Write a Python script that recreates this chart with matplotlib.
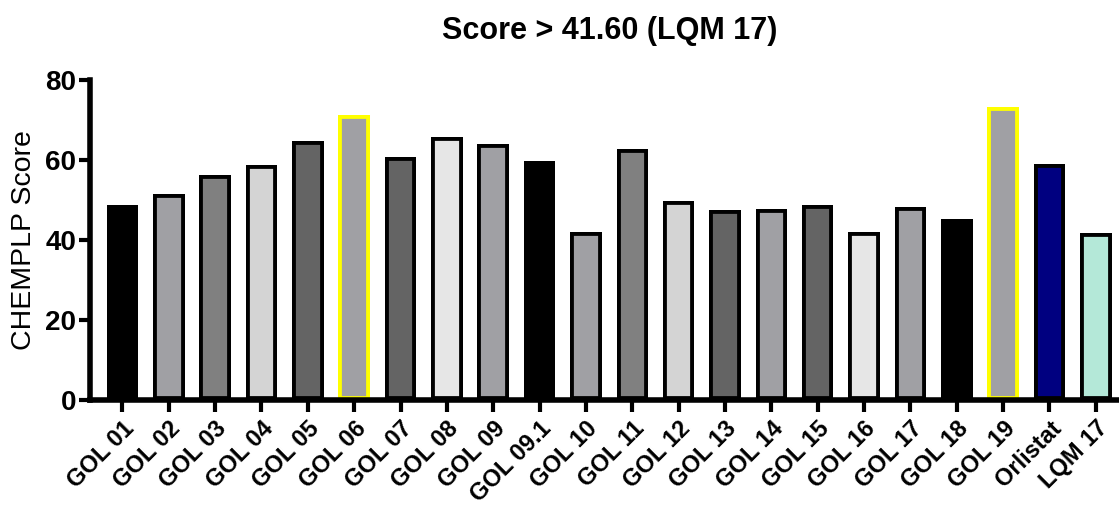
import matplotlib
matplotlib.use("Agg")
import matplotlib.pyplot as plt

plt.rcParams['font.family'] = ['Liberation Sans', 'DejaVu Sans']

compounds = ["GOL 01", "GOL 02", "GOL 03", "GOL 04", "GOL 05", "GOL 06", "GOL 07",
             "GOL 08", "GOL 09", "GOL 09.1", "GOL 10", "GOL 11", "GOL 12", "GOL 13",
             "GOL 14", "GOL 15", "GOL 16", "GOL 17", "GOL 18", "GOL 19",
             "Orlistat", "LQM 17"]
chemplp_scores = [48.8, 51.4, 56.3, 58.6, 64.8, 71.2, 60.8, 65.8, 64.0, 59.6,
                  41.9, 62.7, 49.7, 47.5, 47.8, 48.6, 41.9, 48.3, 45.2, 73.1,
                  59.0, 41.6]
fill_colors = ["#000000", "#a0a0a4", "#808080", "#d4d4d4", "#646464", "#a0a0a4",
               "#646464", "#e6e6e6", "#a0a0a4", "#000000", "#a0a0a4", "#808080",
               "#d4d4d4", "#646464", "#a0a0a4", "#646464", "#e6e6e6", "#a0a0a4",
               "#000000", "#a0a0a4", "#000080", "#b4e8d8"]
edge_colors = ["#000000"] * 5 + ["#ffff00"] + ["#000000"] * 13 + ["#ffff00"] + ["#000000"] * 2
y_ticks = [0, 20, 40, 60, 80]

fig = plt.figure(figsize=(11.19, 5.05), dpi=100)
ax = fig.add_axes([0.0804, 0.208, 0.9196, 0.634])

x = list(range(len(compounds)))
bars = ax.bar(x, chemplp_scores, width=0.68, color=fill_colors,
              edgecolor=edge_colors, linewidth=5.6, zorder=2)
# keep the outline inside each bar so the top edge sits at the value
for b in bars:
    b.set_clip_path(b)

ax.set_xlim(-0.7, len(compounds) - 0.5)
ax.set_ylim(0, 80)
ax.set_yticks(y_ticks)
ax.set_xticks(x)
ax.set_xticklabels(compounds, rotation=45, ha='right', va='top',
                   rotation_mode='anchor', fontsize=17, fontweight='bold')
ax.tick_params(axis='y', labelsize=20, width=3, length=8, pad=2)
ax.tick_params(axis='x', width=3, length=8.5, pad=3.5)
for lab in ax.get_yticklabels():
    lab.set_fontweight('bold')

for side in ('top', 'right'):
    ax.spines[side].set_visible(False)
for side in ('left', 'bottom'):
    ax.spines[side].set_linewidth(4)
    ax.spines[side].set_capstyle('projecting')
    ax.spines[side].set_zorder(3)

ax.set_ylabel("CHEMPLP Score", fontsize=20.5, labelpad=6)
fig.text(0.545, 1 - 31 / 505, "Score > 41.60 (LQM 17)", ha='center', va='center',
         fontsize=22, fontweight='bold')

fig.savefig("out.png", dpi=100)
